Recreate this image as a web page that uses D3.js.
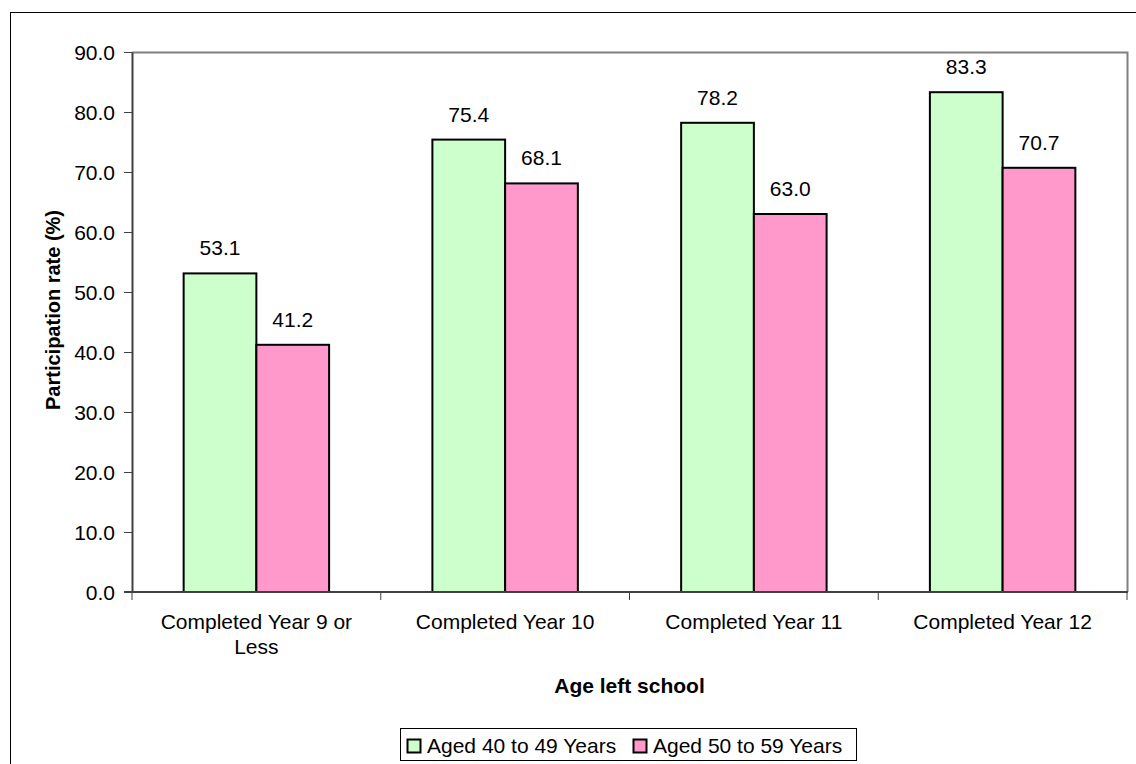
<!DOCTYPE html>
<html>
<head>
<meta charset="utf-8">
<script src="https://cdn.jsdelivr.net/npm/d3@7"></script>
<style>
  body { margin: 0; background: #fff; }
  text { font-family: Arial, "Liberation Sans", sans-serif; fill: #000; }
</style>
</head>
<body>
<div id="chart"></div>
<script>
// Data
var categories = ["Completed Year 9 or Less", "Completed Year 10", "Completed Year 11", "Completed Year 12"];
var catLines = [["Completed Year 9 or", "Less"], ["Completed Year 10"], ["Completed Year 11"], ["Completed Year 12"]];
var seriesNames = ["Aged 40 to 49 Years", "Aged 50 to 59 Years"];
var aged40to49 = [53.1, 75.4, 78.2, 83.3];
var aged50to59 = [41.2, 68.1, 63.0, 70.7];
var yTicks = [0, 10, 20, 30, 40, 50, 60, 70, 80, 90];
var colors = ["#CCFFCC", "#FF99CC"];

var width = 1136, height = 764;
var plot = {left: 132, right: 1127, top: 52, bottom: 592};
var fontSize = '21px';

var svg = d3.select('#chart').append('svg')
  .attr('width', width)
  .attr('height', height);

// outer chart border
svg.append('rect')
  .attr('x', 10.5).attr('y', 12.5)
  .attr('width', 1140).attr('height', 770)
  .style('fill', 'none').style('stroke', '#000').style('stroke-width', 1);

var y = d3.scaleLinear().domain([0, 90]).range([plot.bottom, plot.top]);
var x0 = d3.scaleBand().domain(categories).range([plot.left, plot.right]).paddingInner(0).paddingOuter(0);
var x1 = d3.scaleBand().domain(seriesNames).range([0, x0.bandwidth()]).paddingInner(0).paddingOuter(0.71);

// plot frame (top & right in grey)
svg.append('path')
  .attr('d', 'M' + plot.left + ',' + (plot.top + 0.5) + 'H' + (plot.right + 0.5) + 'V' + plot.bottom)
  .style('fill', 'none').style('stroke', '#808080').style('stroke-width', 2);

// bars
var rows = categories.map(function(c, i) {
  return {cat: c, values: [aged40to49[i], aged50to59[i]]};
});
var groups = svg.selectAll('.grp').data(rows).enter().append('g')
  .attr('class', 'grp')
  .attr('transform', function(d) { return 'translate(' + x0(d.cat) + ',0)'; });

groups.selectAll('rect').data(function(d) {
    return d.values.map(function(v, j) { return {name: seriesNames[j], value: v, j: j}; });
  }).enter().append('rect')
  .attr('x', function(d) { return x1(d.name); })
  .attr('y', function(d) { return y(d.value); })
  .attr('width', x1.bandwidth())
  .attr('height', function(d) { return y(0) - y(d.value); })
  .style('fill', function(d) { return colors[d.j]; })
  .style('stroke', '#000').style('stroke-width', 2);

groups.selectAll('.lbl').data(function(d) {
    return d.values.map(function(v, j) { return {name: seriesNames[j], value: v}; });
  }).enter().append('text')
  .attr('class', 'lbl')
  .attr('x', function(d) { return x1(d.name) + x1.bandwidth() / 2; })
  .attr('y', function(d) { return y(d.value) - 18; })
  .style('text-anchor', 'middle')
  .style('font-size', fontSize)
  .text(function(d) { return d3.format('.1f')(d.value); });

// y axis
var yAxis = svg.append('g')
  .attr('transform', 'translate(' + plot.left + ',0)')
  .call(d3.axisLeft(y).tickValues(yTicks).tickSize(8).tickSizeOuter(0).tickFormat(d3.format('.1f')));
yAxis.select('.domain').style('stroke', '#404040').style('stroke-width', 2);
yAxis.selectAll('.tick line').style('stroke', '#404040');
yAxis.selectAll('.tick text')
  .style('font-size', fontSize)
  .style('font-family', 'Arial, "Liberation Sans", sans-serif')
  .style('fill', '#000')
  .attr('x', -17).attr('dy', '0.35em');

// x axis
var xAxis = svg.append('g')
  .attr('transform', 'translate(0,' + plot.bottom + ')');
xAxis.append('line')
  .attr('x1', plot.left - 8).attr('x2', plot.right + 1)
  .style('stroke', '#404040').style('stroke-width', 2);
xAxis.selectAll('.xt').data(categories.concat(['end'])).enter().append('line')
  .attr('x1', function(d, i) { return i < categories.length ? x0(d) : plot.right; })
  .attr('x2', function(d, i) { return i < categories.length ? x0(d) : plot.right; })
  .attr('y1', 0).attr('y2', 8)
  .style('stroke', '#404040');
xAxis.selectAll('.cl').data(categories).enter().append('text')
  .attr('x', function(d) { return x0(d) + x0.bandwidth() / 2; })
  .attr('y', 37)
  .style('text-anchor', 'middle')
  .style('font-size', fontSize)
  .each(function(d, i) {
    var t = d3.select(this);
    catLines[i].forEach(function(line, k) {
      t.append('tspan').attr('x', x0(d) + x0.bandwidth() / 2).attr('dy', k === 0 ? 0 : 25).text(line);
    });
  });

// axis titles
svg.append('text')
  .attr('x', (plot.left + plot.right) / 2)
  .attr('y', 693)
  .style('text-anchor', 'middle')
  .style('font-size', fontSize).style('font-weight', 'bold')
  .text('Age left school');

svg.append('text')
  .attr('transform', 'translate(53,310) rotate(-90)')
  .attr('dy', '0.35em')
  .style('text-anchor', 'middle')
  .style('font-size', '20px').style('font-weight', 'bold')
  .text('Participation rate (%)');

// legend
var legend = svg.append('g').attr('transform', 'translate(400,728)');
legend.append('rect')
  .attr('x', 0.5).attr('y', 0.5).attr('width', 456).attr('height', 32)
  .style('fill', '#fff').style('stroke', '#000').style('stroke-width', 1);
var legX = [7, 233];
seriesNames.forEach(function(name, i) {
  legend.append('rect')
    .attr('x', legX[i] + 0.5).attr('y', 11.5).attr('width', 13).attr('height', 13)
    .style('fill', colors[i]).style('stroke', '#000').style('stroke-width', 2);
  legend.append('text')
    .attr('x', legX[i] + 20).attr('y', 25)
    .style('font-size', fontSize)
    .text(name);
});
</script>
</body>
</html>
